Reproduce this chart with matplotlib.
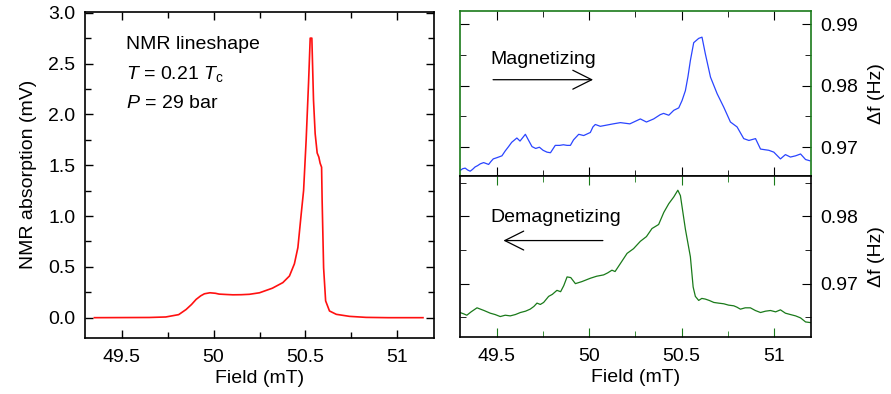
import matplotlib
matplotlib.use("Agg")
import matplotlib.pyplot as plt
from matplotlib.ticker import MultipleLocator

plt.rcParams['font.family'] = ['Liberation Sans', 'DejaVu Sans']
plt.rcParams['mathtext.fontset'] = 'custom'
plt.rcParams['mathtext.rm'] = 'Liberation Sans'
plt.rcParams['mathtext.it'] = 'Liberation Sans:italic'

# ---------------- data ----------------
nmr_field = [49.351, 49.5, 49.65, 49.74, 49.81, 49.85, 49.88, 49.905, 49.93, 49.95, 49.98,
             50.01, 50.03, 50.07, 50.105, 50.15, 50.195, 50.25, 50.32, 50.377, 50.413,
             50.44, 50.459, 50.477, 50.49, 50.504, 50.517, 50.526, 50.535, 50.544,
             50.553, 50.564, 50.573, 50.58, 50.588, 50.591, 50.599, 50.61, 50.631,
             50.668, 50.74, 50.83, 50.95, 51.14]
nmr_signal = [0.0, 0.001, 0.002, 0.007, 0.03, 0.08, 0.13, 0.18, 0.215, 0.235, 0.245,
              0.24, 0.232, 0.228, 0.225, 0.226, 0.23, 0.245, 0.29, 0.345, 0.41,
              0.53, 0.69, 1.02, 1.25, 1.75, 2.31, 2.75, 2.75, 2.14,
              1.81, 1.62, 1.58, 1.52, 1.48, 1.15, 0.49, 0.165, 0.066,
              0.033, 0.013, 0.003, 0.0, 0.0]

mag_field = [49.30, 49.314, 49.328, 49.341, 49.355, 49.368, 49.382, 49.395, 49.41, 49.428,
             49.455, 49.468, 49.48, 49.5, 49.527, 49.545, 49.563, 49.58, 49.608, 49.625,
             49.654, 49.67, 49.69, 49.71, 49.73, 49.75, 49.771, 49.79, 49.816, 49.84,
             49.86, 49.88, 49.898, 49.915, 49.943, 49.97, 50.006, 50.02, 50.033, 50.06,
             50.095, 50.13, 50.169, 50.22, 50.277, 50.31, 50.349, 50.385, 50.403, 50.431,
             50.458, 50.485, 50.503, 50.521, 50.535, 50.548, 50.566, 50.593, 50.611,
             50.629, 50.657, 50.693, 50.729, 50.765, 50.801, 50.837, 50.865, 50.901,
             50.928, 50.95, 50.973, 51.0, 51.036, 51.063, 51.09, 51.118, 51.145, 51.172, 51.195]
mag_df = [0.9662, 0.9665, 0.9666, 0.9663, 0.9661, 0.9664, 0.9668, 0.9670, 0.9673, 0.9675,
          0.9672, 0.9677, 0.9681, 0.9683, 0.9686, 0.9694, 0.9701, 0.9708, 0.9715, 0.9710,
          0.9721, 0.9712, 0.9701, 0.9698, 0.9700, 0.9695, 0.9692, 0.9691, 0.9703, 0.9703,
          0.9704, 0.9703, 0.9703, 0.9712, 0.9721, 0.9719, 0.9724, 0.9733, 0.9737, 0.9734,
          0.9736, 0.9738, 0.9740, 0.9738, 0.9746, 0.9741, 0.9746, 0.9753, 0.9755, 0.9752,
          0.9760, 0.9764, 0.9776, 0.9792, 0.9815, 0.9841, 0.9870, 0.9877, 0.9879,
          0.9852, 0.9814, 0.9787, 0.9765, 0.9741, 0.9733, 0.9714, 0.9711, 0.9714,
          0.9697, 0.9696, 0.9695, 0.9692, 0.9681, 0.9688, 0.9684, 0.9686, 0.9689, 0.9680, 0.9678]

demag_field = [49.30, 49.32, 49.337, 49.36, 49.392, 49.43, 49.464, 49.49, 49.518, 49.545,
               49.572, 49.6, 49.627, 49.655, 49.68, 49.70, 49.717, 49.735, 49.753, 49.78,
               49.80, 49.825, 49.845, 49.862, 49.88, 49.90, 49.925, 49.96, 50.006, 50.04,
               50.078, 50.10, 50.123, 50.14, 50.169, 50.205, 50.24, 50.277, 50.31, 50.34,
               50.376, 50.404, 50.431, 50.458, 50.48, 50.494, 50.521, 50.548, 50.563,
               50.575, 50.593, 50.61, 50.629, 50.65, 50.675, 50.70, 50.729, 50.755, 50.783,
               50.80, 50.819, 50.845, 50.873, 50.90, 50.928, 50.955, 50.982, 51.01, 51.036,
               51.063, 51.09, 51.118, 51.145, 51.172, 51.199]
demag_df = [0.9657, 0.9655, 0.9653, 0.9658, 0.9664, 0.9660, 0.9656, 0.9654, 0.9651, 0.9653,
            0.9652, 0.9654, 0.9657, 0.9659, 0.9662, 0.9666, 0.9671, 0.9669, 0.9672, 0.9681,
            0.9684, 0.9690, 0.9688, 0.9697, 0.9710, 0.9709, 0.9700, 0.9703, 0.9708, 0.9711,
            0.9713, 0.9716, 0.9720, 0.9718, 0.9730, 0.9745, 0.9752, 0.9763, 0.9770, 0.9782,
            0.9788, 0.9806, 0.9819, 0.9829, 0.9839, 0.9831, 0.9781, 0.9740, 0.9695,
            0.9681, 0.9675, 0.9678, 0.9677, 0.9675, 0.9672, 0.9671, 0.9670, 0.9668, 0.9667,
            0.9665, 0.9662, 0.9664, 0.9664, 0.9660, 0.9657, 0.9659, 0.9660, 0.9658, 0.9661,
            0.9656, 0.9654, 0.9652, 0.9649, 0.9643, 0.9642]

x_ticks = [49.5, 50, 50.5, 51]
x_ticklabels = ['49.5', '50', '50.5', '51']

# ---------------- figure ----------------
fig = plt.figure(figsize=(8.91, 3.94), dpi=100)
FS = 14
GREEN = '#1a7a1a'
BLUE = '#2a45ff'
RED = '#ff1010'
ARROW = dict(arrowstyle='->', color='black', lw=0.9, mutation_scale=34, shrinkA=0, shrinkB=0)

axL = fig.add_axes([0.0954, 0.1421, 0.3917, 0.8282])
axT = fig.add_axes([0.5163, 0.5530, 0.3936, 0.4198])
axB = fig.add_axes([0.5163, 0.1454, 0.3936, 0.4076], sharex=axT)

# left panel
axL.plot(nmr_field, nmr_signal, color=RED, lw=1.2)
axL.set_xlim(49.3, 51.2)
axL.set_ylim(-0.2, 3.01)
axL.set_yticks([0, 0.5, 1.0, 1.5, 2.0, 2.5, 3.0])
axL.set_yticklabels(['0.0', '0.5', '1.0', '1.5', '2.0', '2.5', '3.0'])
axL.yaxis.set_minor_locator(MultipleLocator(0.25))
axL.set_xticks(x_ticks)
axL.set_xticklabels(x_ticklabels)
axL.xaxis.set_minor_locator(MultipleLocator(0.25))
axL.tick_params(which='both', direction='in', top=True, right=True, labelsize=FS, width=1.0)
axL.tick_params(which='major', length=5.8)
axL.tick_params(axis='y', which='major', pad=7)
axL.tick_params(axis='x', which='major', pad=8)
axL.tick_params(which='minor', length=4.5)
axL.set_xlabel('Field (mT)', fontsize=FS, labelpad=3)
axL.set_ylabel('NMR absorption (mV)', fontsize=FS, labelpad=8)
for s in axL.spines.values():
    s.set_linewidth(1.2)
axL.text(0.117, 0.885, 'NMR lineshape', transform=axL.transAxes, fontsize=FS, va='baseline')
axL.text(0.117, 0.795, r'$T$ = 0.21 $T_\mathrm{c}$', transform=axL.transAxes, fontsize=FS, va='baseline')
axL.text(0.117, 0.704, r'$P$ = 29 bar', transform=axL.transAxes, fontsize=FS, va='baseline')

# top right panel
axT.plot(mag_field, mag_df, color=BLUE, lw=0.9)
axT.set_xlim(49.3, 51.2)
axT.set_ylim(0.9653, 0.9922)
axT.set_yticks([0.97, 0.98, 0.99])
axT.set_yticklabels(['0.97', '0.98', '0.99'])
axT.yaxis.set_minor_locator(MultipleLocator(0.005))
for name in ['top', 'left', 'right']:
    axT.spines[name].set_color(GREEN)
    axT.spines[name].set_linewidth(1.2)
axT.spines['bottom'].set_color('#102010')
axT.spines['bottom'].set_linewidth(1.2)
axT.tick_params(which='both', direction='in', top=True, bottom=True, left=True, right=True,
                labelleft=False, labelright=True, labelbottom=False, labelsize=FS, color='black')
axT.tick_params(which='major', length=6.5, pad=7)
axT.tick_params(which='minor', length=4)
axT.yaxis.set_label_position('right')
axT.set_ylabel('Δf (Hz)', fontsize=FS, labelpad=7)
axT.annotate('', xy=(50.021, 0.98098), xytext=(49.479, 0.98098), arrowprops=ARROW)
axT.text(49.463, 0.98359, 'Magnetizing', fontsize=FS, va='baseline')

# bottom right panel
axB.plot(demag_field, demag_df, color=GREEN, lw=0.9)
axB.set_xlim(49.3, 51.2)
axB.set_ylim(0.9621, 0.9860)
axB.set_yticks([0.97, 0.98])
axB.set_yticklabels(['0.97', '0.98'])
axB.yaxis.set_minor_locator(MultipleLocator(0.005))
axB.set_xticks(x_ticks)
axB.set_xticklabels(x_ticklabels)
axB.xaxis.set_minor_locator(MultipleLocator(0.25))
for s in axB.spines.values():
    s.set_linewidth(1.2)
    s.set_color('black')
axB.tick_params(which='both', direction='in', top=True, bottom=True, left=True, right=True,
                labelleft=False, labelright=True, labelsize=FS)
axB.tick_params(axis='x', which='both', color=GREEN)
axB.tick_params(which='major', length=6.5)
axB.tick_params(axis='y', which='major', pad=7)
axB.tick_params(axis='x', which='major', pad=8)
axB.tick_params(which='minor', length=4)
axB.yaxis.set_label_position('right')
axB.set_ylabel('Δf (Hz)', fontsize=FS, labelpad=7)
axB.set_xlabel('Field (mT)', fontsize=FS, labelpad=3)
axB.annotate('', xy=(49.535, 0.97641), xytext=(50.074, 0.97641), arrowprops=ARROW)
axB.text(49.466, 0.9791, 'Demagnetizing', fontsize=FS, va='baseline')

fig.savefig('out.png', dpi=100)
